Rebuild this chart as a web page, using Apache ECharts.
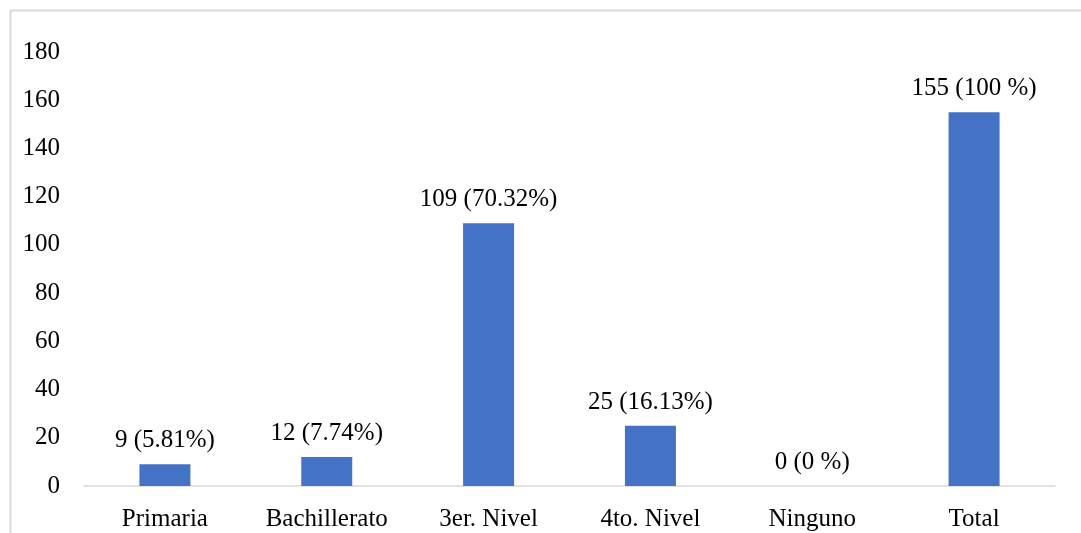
<!DOCTYPE html>
<html>
<head>
<meta charset="utf-8">
<script src="https://cdn.jsdelivr.net/npm/echarts@6/dist/echarts.min.js"></script>
<style>html,body{margin:0;padding:0;background:#fff}#c{width:1081px;height:533px}</style>
</head>
<body>
<div id="c"></div>
<script>
const categories = ['Primaria', 'Bachillerato', '3er. Nivel', '4to. Nivel', 'Ninguno', 'Total'];
const values = [9, 12, 109, 25, 0, 155];
const labels = ['9 (5.81%)', '12 (7.74%)', '109 (70.32%)', '25 (16.13%)', '0 (0 %)', '155 (100 %)'];
const yTicks = { min: 0, max: 180, interval: 20 };

const font = '"Liberation Serif", "Times New Roman", serif';
const chart = echarts.init(document.getElementById('c'));
chart.setOption({
  animation: false,
  textStyle: { fontFamily: font },
  graphic: [{
    type: 'rect', left: 8, top: 8,
    shape: { width: 1200, height: 700 },
    style: { fill: 'none', stroke: '#d9d9d9', lineWidth: 2 },
    silent: true
  }],
  grid: { left: 84, right: 26, top: 52, bottom: 47, containLabel: false },
  xAxis: {
    type: 'category',
    data: categories,
    axisLine: { lineStyle: { color: '#d9d9d9', width: 1.5 } },
    axisTick: { show: false },
    axisLabel: { color: '#000', fontSize: 25, fontFamily: font, margin: 21 }
  },
  yAxis: {
    type: 'value',
    min: yTicks.min, max: yTicks.max, interval: yTicks.interval,
    splitLine: { show: false },
    axisLine: { show: false },
    axisTick: { show: false },
    axisLabel: { color: '#000', fontSize: 25, fontFamily: font, margin: 24 }
  },
  series: [{
    type: 'bar',
    data: values,
    barWidth: 51,
    itemStyle: { color: '#4472c4' },
    label: {
      show: true, position: 'top', distance: 11,
      color: '#000', fontSize: 25, fontFamily: font,
      formatter: p => labels[p.dataIndex]
    }
  }]
});
</script>
</body>
</html>
